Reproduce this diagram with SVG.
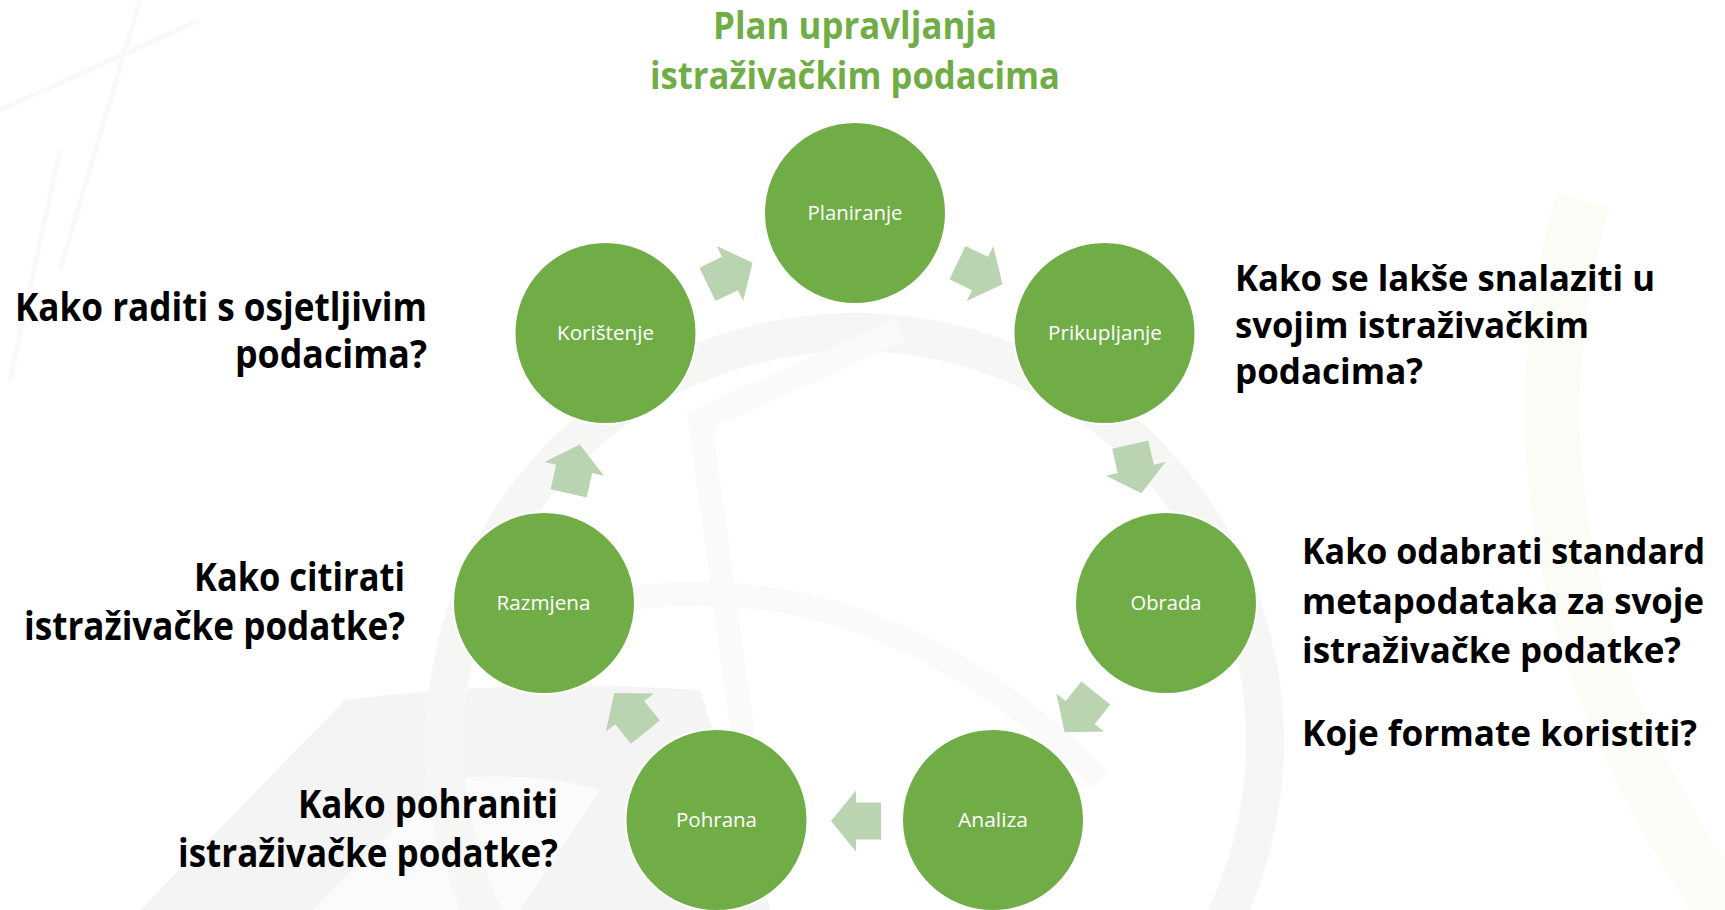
<svg xmlns="http://www.w3.org/2000/svg" width="1725" height="910" viewBox="0 0 1725 910">
<style>
.node{fill:#70AD47;stroke:#FFFFFF;stroke-width:2}
.lbl{font-family:"Open Sans","Liberation Sans",sans-serif;font-size:20px;fill:#FFFFFF;text-anchor:middle}
.arr{fill:#BAD3B1}
.q{font-family:"Open Sans","Liberation Sans",sans-serif;font-weight:bold;fill:#000000}
.ql{font-size:38.5px;text-anchor:end}
.qr{font-size:36px;text-anchor:start}
.title{font-family:"Open Sans","Liberation Sans",sans-serif;font-weight:bold;font-size:37px;fill:#70AD47;text-anchor:middle}
.wm{fill:none}
</style>
<defs>
<polygon id="arrow" points="-25,-18.5 0,-18.5 0,-30.5 25,0 0,30.5 0,18.5 -25,18.5"/>
</defs>
<rect width="1725" height="910" fill="#FFFFFF"/>
<g id="watermark">
<path d="M140,910 L345,700 Q520,678 700,690 L770,910 Z" fill="#F5F4F5"/>
<path d="M312,910 L446,778 Q540,772 600,790 L520,910 Z" fill="#FBFBFB"/>
<circle class="wm" cx="855" cy="742" r="410" stroke="#F6F7F4" stroke-width="38"/>
<path class="wm" d="M760,860 L700,420 L900,330" stroke="#FAFAF8" stroke-width="24"/>
<path class="wm" d="M620,600 Q880,560 1100,780" stroke="#FAFAF8" stroke-width="24"/>
<path class="wm" d="M1583,200 Q1480,560 1725,910" stroke="#FCFCF6" stroke-width="55"/>
<path class="wm" d="M0,110 L200,20 M60,270 L140,0 M10,380 L60,150" stroke="#F9F9F7" stroke-width="5"/>
</g>
<g id="title">
<text class="title" x="855" y="39" textLength="284" lengthAdjust="spacingAndGlyphs">Plan upravljanja</text>
<text class="title" x="855" y="89" textLength="410" lengthAdjust="spacingAndGlyphs">istraživačkim podacima</text>
</g>
<g id="connectors">
<use href="#arrow" class="arr" transform="translate(980,273.5) rotate(25.71)"/>
<use href="#arrow" class="arr" transform="translate(1135.8,468.9) rotate(77.14)"/>
<use href="#arrow" class="arr" transform="translate(1080.2,712.6) rotate(128.57)"/>
<use href="#arrow" class="arr" transform="translate(856,821) rotate(180)"/>
<use href="#arrow" class="arr" transform="translate(629.8,712.6) rotate(231.43)"/>
<use href="#arrow" class="arr" transform="translate(574.2,468.9) rotate(282.86)"/>
<use href="#arrow" class="arr" transform="translate(730,273.5) rotate(334.29)"/>
</g>
<g id="n-planiranje"><circle class="node" cx="855" cy="213" r="91"/><text class="lbl" x="855" y="220" textLength="95" lengthAdjust="spacingAndGlyphs">Planiranje</text></g>
<g id="n-prikupljanje"><circle class="node" cx="1104.5" cy="333" r="91"/><text class="lbl" x="1105" y="340" textLength="114" lengthAdjust="spacingAndGlyphs">Prikupljanje</text></g>
<g id="n-obrada"><circle class="node" cx="1166" cy="603" r="91"/><text class="lbl" x="1166" y="610" textLength="71" lengthAdjust="spacingAndGlyphs">Obrada</text></g>
<g id="n-analiza"><circle class="node" cx="993" cy="820" r="91"/><text class="lbl" x="993" y="827" textLength="70" lengthAdjust="spacingAndGlyphs">Analiza</text></g>
<g id="n-pohrana"><circle class="node" cx="716.5" cy="820" r="91"/><text class="lbl" x="716.5" y="827" textLength="81" lengthAdjust="spacingAndGlyphs">Pohrana</text></g>
<g id="n-razmjena"><circle class="node" cx="544" cy="603" r="91"/><text class="lbl" x="543.5" y="610" textLength="94" lengthAdjust="spacingAndGlyphs">Razmjena</text></g>
<g id="n-koristenje"><circle class="node" cx="605.5" cy="333" r="91"/><text class="lbl" x="605.5" y="340" textLength="97" lengthAdjust="spacingAndGlyphs">Korištenje</text></g>
<g id="q-osjetljivi">
<text class="q ql" x="427" y="321" textLength="412" lengthAdjust="spacingAndGlyphs">Kako raditi s osjetljivim</text>
<text class="q ql" x="427" y="368" textLength="192" lengthAdjust="spacingAndGlyphs">podacima?</text>
</g>
<g id="q-citirati">
<text class="q ql" x="405" y="591" textLength="211" lengthAdjust="spacingAndGlyphs">Kako citirati</text>
<text class="q ql" x="405" y="640" textLength="381" lengthAdjust="spacingAndGlyphs">istraživačke podatke?</text>
</g>
<g id="q-pohraniti">
<text class="q ql" x="558" y="818" textLength="260" lengthAdjust="spacingAndGlyphs">Kako pohraniti</text>
<text class="q ql" x="558" y="867" textLength="380" lengthAdjust="spacingAndGlyphs">istraživačke podatke?</text>
</g>
<g id="q-snalaziti">
<text class="q qr" x="1235" y="291" textLength="420" lengthAdjust="spacingAndGlyphs">Kako se lakše snalaziti u</text>
<text class="q qr" x="1235" y="338" textLength="354" lengthAdjust="spacingAndGlyphs">svojim istraživačkim</text>
<text class="q qr" x="1235" y="384" textLength="188" lengthAdjust="spacingAndGlyphs">podacima?</text>
</g>
<g id="q-metapodaci">
<text class="q qr" x="1302" y="564" textLength="403" lengthAdjust="spacingAndGlyphs">Kako odabrati standard</text>
<text class="q qr" x="1302" y="614" textLength="402" lengthAdjust="spacingAndGlyphs">metapodataka za svoje</text>
<text class="q qr" x="1302" y="663" textLength="379" lengthAdjust="spacingAndGlyphs">istraživačke podatke?</text>
<text class="q qr" x="1302" y="746" textLength="395" lengthAdjust="spacingAndGlyphs">Koje formate koristiti?</text>
</g>
</svg>
